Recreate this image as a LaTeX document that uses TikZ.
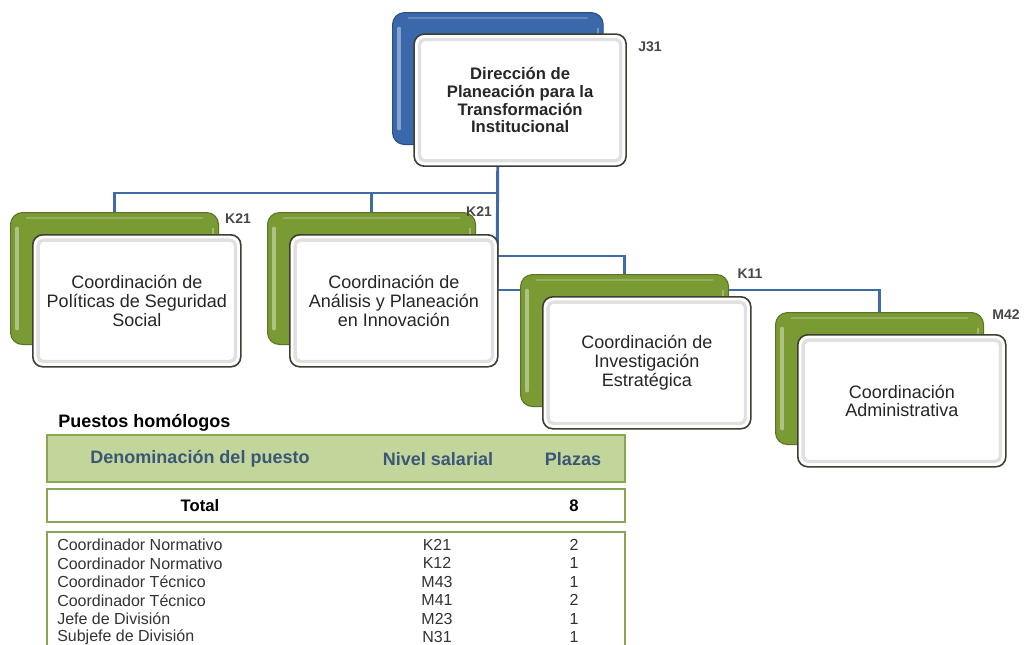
\documentclass[tikz,border=0pt]{standalone}
\usepackage{fontspec}
\setmainfont{Liberation Sans}
\usetikzlibrary{backgrounds}
\definecolor{linkblue}{HTML}{3F6AA6}
\definecolor{dirblue}{HTML}{3A68AA}
\definecolor{coordgreen}{HTML}{7A9A34}
\definecolor{headgreen}{HTML}{C2D69B}
\definecolor{rulegreen}{HTML}{8AA554}
\definecolor{headtext}{HTML}{3B5676}
\definecolor{framedark}{HTML}{3E3E32}

\begin{document}
\begin{tikzpicture}[x=0.75pt,y=-0.75pt,
  conn/.style={draw=linkblue,line width=2.2pt},
  back/.style={draw=#1!75!black,fill=#1,line width=.8pt,rounded corners=9pt,
    minimum width=156pt,minimum height=99pt,anchor=north west,inner sep=0pt,
    path picture={
      \draw[#1!60!white,line width=2.8pt,line cap=round]
        ([shift={(5pt,12pt)}]path picture bounding box.south west)
        -- ([shift={(5pt,-12pt)}]path picture bounding box.north west);
      \draw[#1!80!white,line width=1.4pt,line cap=round]
        ([shift={(12pt,-4pt)}]path picture bounding box.north west)
        -- ([shift={(-12pt,-4pt)}]path picture bounding box.north east);
      \draw[#1!70!white,line width=1.4pt,line cap=round]
        ([shift={(-4pt,-12pt)}]path picture bounding box.north east)
        -- ([shift={(-4pt,12pt)}]path picture bounding box.south east);}},
  front/.style={draw=framedark,fill=white,line width=1.2pt,rounded corners=7.5pt,
    minimum width=156pt,minimum height=99pt,anchor=north west,inner sep=2pt,
    align=center,text=black!85,font=\fontsize{13.5}{14}\selectfont,
    path picture={\draw[black!12,line width=2.5pt,rounded corners=4pt]
      ([shift={(4pt,4pt)}]path picture bounding box.south west) rectangle
      ([shift={(-4pt,-4pt)}]path picture bounding box.north east);}},
  lvl/.style={font=\bfseries\fontsize{10.5}{12}\selectfont,text=black!72},
  tblbox/.style={draw=rulegreen,line width=2.2pt},
  hdr/.style={font=\bfseries\fontsize{13.5}{15}\selectfont,text=headtext},
  rowtxt/.style={font=\fontsize{12}{13}\selectfont,text=black!80,inner sep=0pt}]
\useasboundingbox (0,0) rectangle (1025,644);

% cajas de fondo y lineas de mando
\node[back=dirblue,minimum width=158pt] (dir) at (392,12) {};
\foreach \n/\x/\y in {c1/10/212,c2/267/212,c3/520/274,c4/775/312}
  \node[back=coordgreen] (\n) at (\x,\y) {};
\coordinate (bus1) at (497,193);
\coordinate (bus2) at (497,256);
\coordinate (bus3) at (497,290);
\begin{scope}[on background layer]
\draw[conn] (dir.south) -- (bus3);
\draw[conn] (bus1) -| (c1.north);
\draw[conn] (bus1) -| (c2.north);
\draw[conn] (bus2) -| (c3.north);
\draw[conn] (bus3) -| (c4.north);
\end{scope}

\node[front,minimum width=159pt,font=\bfseries\fontsize{12.5}{13.3}\selectfont]
  (dirF) at ([shift={(16pt,-16pt)}]dir.north west)
  {Dirección de\\Planeación para la\\Transformación\\Institucional};
\node[front] (c1F) at ([shift={(16.5pt,-16.5pt)}]c1.north west)
  {Coordinación de\\Políticas de Seguridad\\Social};
\node[front] (c2F) at ([shift={(16.5pt,-16.5pt)}]c2.north west)
  {Coordinación de\\Análisis y Planeación\\en Innovación};
\node[front] (c3F) at ([shift={(16.5pt,-16.5pt)}]c3.north west)
  {Coordinación de\\Investigación\\Estratégica};
\node[front] (c4F) at ([shift={(16.5pt,-16.5pt)}]c4.north west)
  {Coordinación\\Administrativa};

\node[lvl] (lvdir) at (650,47) {J31};
\node[lvl] (lv1) at (238,219) {K21};
\node[lvl] (lv2) at (479,212) {K21};
\node[lvl] (lv3) at (750,274) {K11};
\node[lvl] (lv4) at (1006,315) {M42};

% puestos homologos
\node[anchor=west,inner sep=0pt,font=\bfseries\fontsize{13.5}{15}\selectfont]
  (tit) at (58,423) {Puestos homólogos};
\draw[tblbox,fill=headgreen] (47,435) rectangle (625,482);
\node[hdr] (hpto) at (200,459) {Denominación del puesto};
\node[hdr] (hniv) at (438,459) {Nivel salarial};
\node[hdr] (hplz) at (573,459) {Plazas};
\draw[tblbox,fill=white] (47,489) rectangle (625,522);
\node[font=\bfseries\fontsize{12.5}{14}\selectfont] (tot) at (200,506) {Total};
\node[font=\bfseries\fontsize{12.5}{14}\selectfont] (totn) at (574,506) {8};
\draw[tblbox] (47,650) -- (47,532) -- (625,532) -- (625,650);
\foreach \p/\v/\c [count=\i from 0] in {Coordinador Normativo/K21/2,
    Coordinador Normativo/K12/1,Coordinador Técnico/M43/1,
    Coordinador Técnico/M41/2,Jefe de División/M23/1,
    Subjefe de División/N31/1}{
  \node[rowtxt,anchor=west] (pto\i) at (57,545+18.4*\i) {\p};
  \node[rowtxt] (niv\i) at (437,545+18.4*\i) {\v};
  \node[rowtxt] (plz\i) at (574,545+18.4*\i) {\c};
}
\end{tikzpicture}
\end{document}
